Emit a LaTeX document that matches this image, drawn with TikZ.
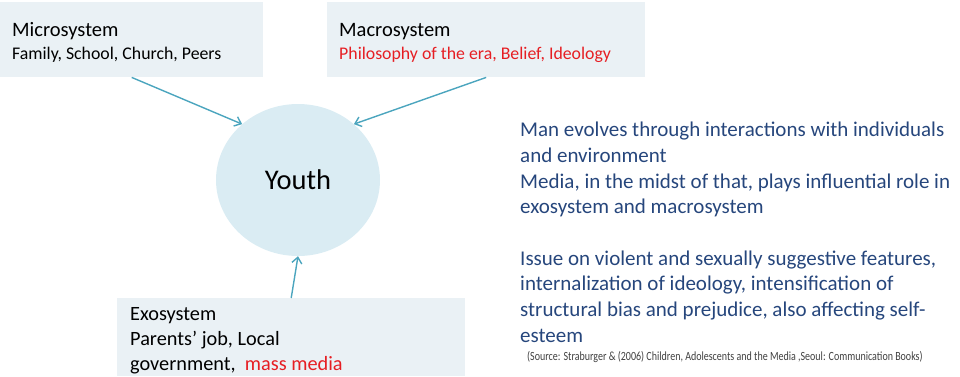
\documentclass[tikz,border=0pt]{standalone}
\usepackage{fontspec}
\setmainfont{Carlito}
\newfontfamily\srcfont[FakeStretch=0.8]{Carlito}
\usetikzlibrary{arrows.meta,shapes.geometric}

\definecolor{boxfill}{RGB}{234,241,245}
\definecolor{youthfill}{RGB}{218,236,243}
\definecolor{linkteal}{RGB}{75,165,190}
\definecolor{textred}{RGB}{230,30,35}
\definecolor{textblue}{RGB}{38,70,124}

\begin{document}
\begin{tikzpicture}[x=1pt, y=-1pt,
    sysbox/.style={fill=boxfill, anchor=north west, align=flush left,
      inner xsep=12pt, inner ysep=0pt},
    link/.style={linkteal, line width=1.4pt,
      -{Straight Barb[length=6pt,width=10pt]}},
  ]
  \useasboundingbox (0,0) rectangle (960,376);

  % the three systems
  \node[sysbox, minimum width=263pt, minimum height=75pt, text width=239pt,
    font=\fontsize{20.5}{23}\selectfont]
    (micro) at (0,2) {\rule{0pt}{19pt}Microsystem\\
    \fontsize{17.8}{23}\selectfont Family, School, Church, Peers};
  \node[sysbox, minimum width=318pt, minimum height=75pt, text width=294pt,
    font=\fontsize{20.5}{23}\selectfont]
    (macro) at (327,2) {\rule{0pt}{19pt}Macrosystem\\
    \fontsize{17.8}{23}\selectfont\color{textred} Philosophy of the era, Belief, Ideology};
  \node[sysbox, inner xsep=13pt, minimum width=348pt, minimum height=78pt,
    text width=322pt, font=\fontsize{20.3}{25}\selectfont] (exo) at (117,298)
    {\rule{0pt}{21pt}Exosystem\\
    Parents' job, Local\\
    government,\ \ \textcolor{textred}{mass media}};

  % youth in the middle
  \node[ellipse, fill=youthfill, minimum width=164pt, minimum height=152pt,
    font=\fontsize{28.5}{30}\selectfont] (youth) at (298,180) {Youth};

  \draw[link] (micro.south) -- (youth.135);
  \draw[link] (macro.south) -- (youth.45);
  \draw[link] (exo.north) -- (youth.south);

  % notes on the right
  \node[anchor=north west, align=left, inner sep=0pt, text=textblue,
    font=\fontsize{21}{25.7}\selectfont] (notes) at (520,122)
    {Man evolves through interactions with individuals\\
    and environment\\
    Media, in the midst of that, plays influential role in\\
    exosystem and macrosystem\\[25.7pt]
    Issue on violent and sexually suggestive features,\\
    internalization of ideology, intensification of\\
    structural bias and prejudice, also affecting self-\\
    esteem};
  \node[anchor=base west, inner sep=0pt, text=black!75,
    font=\srcfont\fontsize{12.5}{13}\selectfont] (source) at (527,360)
    {(Source: Straburger \& (2006) Children, Adolescents and the Media ,Seoul: Communication Books)};
\end{tikzpicture}
\end{document}
